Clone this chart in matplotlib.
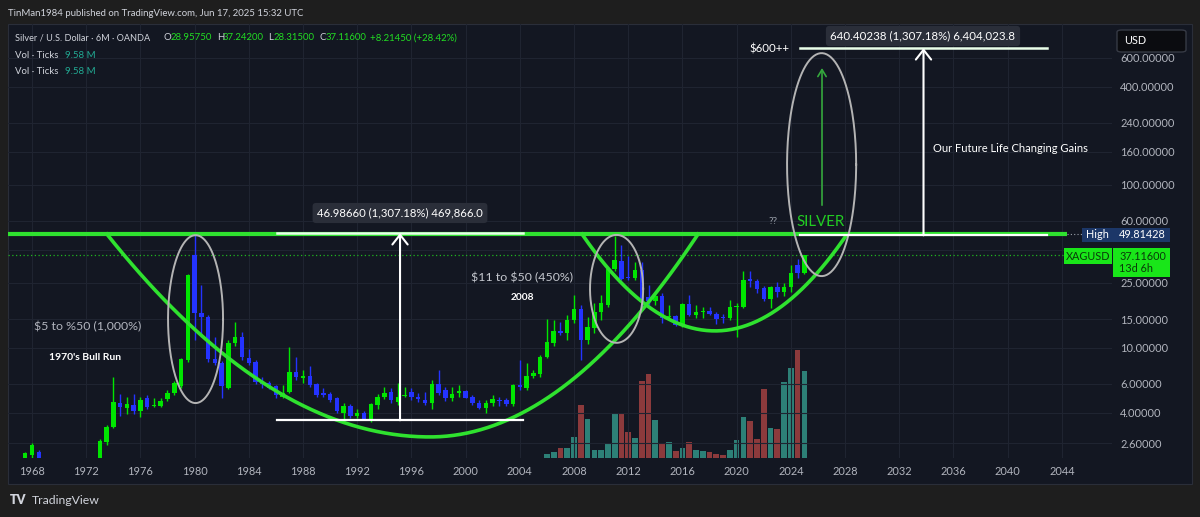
import numpy as np
import matplotlib
matplotlib.use('Agg')
import matplotlib.pyplot as plt
from matplotlib.patches import Rectangle, FancyBboxPatch
from matplotlib.ticker import NullLocator

plt.rcParams['font.family'] = ['Lato', 'DejaVu Sans']

# semi-annual candles (OANDA XAGUSD, 6M), first bar = 1967 H2
start = 1967.5
opens = [1.95, 2.2, 2.3, 1.95, 1.62, 1.8, 1.65, 1.64, 1.5, 1.37, 1.65,
         2.0, 2.66, 3.27, 4.6, 4.25, 4.45, 4.1, 4.9, 4.4, 4.4,
         4.85, 5.25, 5.8, 8.4, 37.1, 16.4, 15.5, 8.5, 8.1, 5.7,
         10.7, 11.6, 8.6, 8.2, 6.2, 6.1, 5.8, 5.0, 5.35, 7.1,
         6.5, 6.7, 6.0, 5.3, 5.2, 4.9, 4.0, 4.4, 3.8, 4.0,
         3.6, 4.45, 5.0, 5.35, 4.65, 5.06, 5.35, 5.0, 4.8, 4.6,
         6.0, 5.5, 4.9, 5.3, 5.4, 5.0, 4.6, 4.3, 4.6, 4.75,
         4.8, 4.5, 5.9, 5.7, 6.75, 6.9, 8.8, 10.7, 12.7, 12.3,
         14.8, 17.3, 11.2, 13.2, 16.6, 18.3, 30.5, 34.1, 27.3, 26.8,
         30.0, 20.5, 19.4, 20.8, 15.4, 15.6, 13.6, 18.6, 15.8, 16.5,
         16.9, 16.2, 15.5, 15.3, 17.8, 17.9, 26.5, 25.7, 23.3, 19.9,
         23.6, 22.0, 23.6, 32.0, 28.9575]
highs = [2.3, 2.6, 2.35, 2.05, 1.95, 1.95, 1.9, 1.75, 1.6, 1.75, 2.05,
         2.75, 3.35, 6.6, 5.2, 5.0, 5.2, 5.0, 5.1, 4.9, 4.9,
         5.5, 6.3, 8.7, 28.5, 49.81428, 24.3, 16.0, 11.6, 8.3, 11.2,
         14.4, 12.5, 9.8, 8.4, 6.6, 6.3, 5.9, 5.9, 10.1, 8.8,
         7.3, 7.7, 6.1, 5.7, 5.35, 5.0, 4.6, 4.5, 4.2, 4.1,
         4.6, 5.2, 5.75, 5.7, 6.1, 5.75, 5.7, 5.3, 5.35, 6.35,
         7.3, 5.75, 5.75, 5.9, 5.5, 5.1, 4.8, 4.8, 5.1, 5.0,
         4.9, 6.0, 8.4, 8.1, 7.3, 9.0, 15.0, 14.8, 14.4, 16.0,
         21.1, 18.3, 15.5, 18.8, 21.1, 30.8, 48.6, 42.7, 36.5, 33.6,
         33.6, 24.3, 22.0, 21.6, 18.3, 16.0, 18.8, 21.1, 18.4, 17.8,
         17.7, 16.5, 16.2, 19.6, 18.9, 29.6, 29.6, 26.4, 23.8, 24.0,
         25.3, 25.0, 32.2, 35.0, 37.242]
lows = [1.9, 2.1, 1.9, 1.55, 1.55, 1.6, 1.6, 1.3, 1.3, 1.35, 1.6,
        1.95, 2.55, 3.2, 3.8, 3.9, 3.9, 3.77, 4.2, 4.35, 4.35,
        4.75, 5.1, 5.7, 8.2, 11.2, 11.6, 8.2, 7.9, 4.9, 5.6,
        10.2, 8.4, 7.9, 6.0, 5.7, 5.6, 4.9, 4.9, 5.3, 6.35,
        6.1, 5.75, 5.0, 5.0, 4.65, 4.0, 3.5, 3.7, 3.7, 3.6,
        3.5, 4.2, 4.85, 4.6, 4.45, 5.0, 4.8, 4.65, 4.45, 4.2,
        5.1, 4.7, 4.7, 5.0, 4.9, 4.45, 4.2, 4.0, 4.4, 4.4,
        4.4, 4.4, 5.5, 5.5, 6.5, 6.6, 8.7, 10.3, 12.0, 11.2,
        14.2, 8.4, 10.5, 12.3, 14.8, 17.8, 29.5, 26.1, 26.0, 26.1,
        17.8, 18.3, 18.3, 14.2, 14.8, 13.6, 13.4, 15.7, 15.2, 15.3,
        15.9, 14.0, 14.3, 14.8, 11.6, 17.5, 23.6, 21.6, 19.3, 17.5,
        20.5, 20.7, 21.9, 27.0, 28.315]
closes = [2.25, 2.55, 1.95, 1.62, 1.8, 1.65, 1.64, 1.5, 1.37, 1.65, 2.0,
          2.68, 3.27, 4.65, 4.35, 4.5, 4.1, 4.8, 4.35, 4.45, 4.75,
          5.3, 6.1, 8.5, 28.0, 16.4, 15.5, 8.5, 8.1, 5.8, 10.7,
          11.6, 8.8, 8.1, 6.2, 6.0, 5.7, 5.1, 5.3, 7.1, 6.6,
          6.7, 5.9, 5.1, 5.1, 4.8, 4.1, 4.4, 3.8, 4.0, 3.65,
          4.5, 5.0, 5.3, 4.8, 5.0, 5.1, 5.0, 4.85, 4.6, 6.0,
          5.3, 4.9, 5.2, 5.4, 4.95, 4.6, 4.3, 4.6, 4.85, 4.7,
          4.5, 5.9, 5.75, 6.7, 7.0, 8.8, 10.9, 12.6, 12.4, 14.8,
          17.3, 11.2, 13.4, 16.6, 18.8, 30.5, 34.6, 26.4, 26.8, 30.0,
          19.1, 19.4, 20.8, 15.2, 15.6, 13.8, 18.6, 15.9, 16.5, 16.9,
          16.2, 15.0, 15.3, 17.8, 18.0, 26.1, 25.6, 23.0, 19.8, 23.6,
          22.0, 23.6, 28.8, 28.9, 37.116]

# tick volume (millions), 2006 H1 .. 2025 H1
vol_start = 2006.0
volumes = [0.45, 0.7, 1.08, 1.08, 2.3, 5.9, 4.3, 0.9, 0.9, 1.57,
           4.85, 4.9, 2.87, 2.24, 8.5, 9.28, 4.17, 1.64, 1.75, 0.82,
           1.08, 1.75, 0.9, 0.82, 0.63, 0.45, 0.37, 0.9, 1.94, 4.55,
           4.1, 2.05, 7.6, 3.3, 3.17, 8.4, 10.0, 12.0, 9.58]

price_ticks = [2.6, 4, 6, 10, 15, 25, 40, 60, 100, 160, 240, 400, 600]
year_ticks = list(range(1968, 2045, 4))
ath = 49.81428
last = 37.116

W, H = 1200, 517
fig = plt.figure(figsize=(W / 100, H / 100), dpi=100)
fig.patch.set_facecolor('#1e1e1e')


def fx(x):
    return x / W


def fy(y):
    return 1 - y / H


fig.patches.append(Rectangle((fx(8), fy(484)), fx(1192) - fx(8), fy(24) - fy(484),
                             transform=fig.transFigure, fc='#131722', ec='#2a2e39',
                             lw=0.8, zorder=-1))

rect = [fx(8), fy(458), fx(1112) - fx(8), fy(24) - fy(458)]
xlim = (1966.23, 2047.70)
ylim = (2.109, 969.6)

# volume pane (own linear scale, overlaid at the bottom)
axv = fig.add_axes(rect)
axv.set_facecolor('none')
axv.set_xlim(xlim)
axv.set_ylim(0, 48)
axv.axis('off')
i0 = int(round((vol_start - start) / 0.5))
tv = vol_start + 0.5 * np.arange(len(volumes))
vcol = ['#2d8077' if closes[i0 + j] >= opens[i0 + j] else '#8c3a3c' for j in range(len(volumes))]
axv.bar(tv, volumes, width=0.42, color=vcol, zorder=2)

ax = fig.add_axes(rect)
ax.set_facecolor('none')
ax.set_yscale('log')
ax.set_xlim(xlim)
ax.set_ylim(ylim)
for s in ax.spines.values():
    s.set_visible(False)
ax.yaxis.tick_right()
ax.set_yticks(price_ticks)
# the 40 label sits under the High / XAGUSD tags
ax.set_yticklabels(['' if v == 40 else f'{v:.5f}' for v in price_ticks])
ax.yaxis.set_minor_locator(NullLocator())
ax.set_xticks(year_ticks)
ax.set_xticklabels([str(y) for y in year_ticks])
ax.tick_params(axis='both', length=0, labelcolor='#b2b5be', labelsize=7.9)
ax.tick_params(axis='y', pad=6)
ax.tick_params(axis='x', pad=6)
ax.grid(color='#1f2431', lw=0.8)
ax.set_axisbelow(True)

# candles
o = np.array(opens); h = np.array(highs); l = np.array(lows); c = np.array(closes)
t = start + 0.5 * np.arange(len(o))
col = np.where(c >= o, '#00e600', '#2433ff')
ax.vlines(t, l, h, colors=col, lw=1, zorder=3)
body = np.maximum(np.abs(c - o), 0.015 * o)
ax.bar(t, body, bottom=np.minimum(o, c), width=0.33, color=col, zorder=4)

green = '#2fe22f'
# all-time-high line and last price line
ax.plot([xlim[0], 2044.4], [ath, ath], color=green, lw=3, solid_capstyle='butt', zorder=6)
ax.plot([2044.4, xlim[1]], [ath, ath], color='#9aa0aa', lw=0.8, ls=(0, (1, 2)), zorder=6)
ax.axhline(last, color='#1fb51f', lw=0.9, ls=(0, (1, 2)), zorder=2)


def cup(left, mid, right, low, top):
    ll, lt = np.log10(low), np.log10(top)
    a = np.linspace(left, mid, 80)
    b = np.linspace(mid, right, 80)
    ya = ll + (lt - ll) * ((a - mid) / (left - mid)) ** 2
    yb = ll + (lt - ll) * ((b - mid) / (right - mid)) ** 2
    ax.plot(np.r_[a, b], 10 ** np.r_[ya, yb], color=green, lw=2.6, zorder=6)


cup(1973.53, 1997.37, 2017.15, 2.84, ath)
cup(2008.59, 2018.41, 2028.15, 12.7, ath)


def oval(ty, p, wy, hd):
    a = np.linspace(0, 2 * np.pi, 200)
    ax.plot(ty + wy * np.cos(a), p * 10 ** (hd * np.sin(a)), color='#b4b4b4', lw=1.4, zorder=7)


oval(1980.07, 15.0, 2.03, 0.515)
oval(2011.14, 23.0, 1.96, 0.331)
oval(2026.27, 133.0, 2.55, 0.684)


def measure(y0, y1, lo, hi):
    mid = (y0 + y1) / 2
    ax.plot([y0, y1], [lo, lo], color='white', lw=1.6, zorder=8)
    ax.plot([y0, y1], [hi, hi], color='#eaffea', lw=1.8, zorder=8)
    ax.annotate('', xy=(mid, hi), xytext=(mid, lo), zorder=8,
                arrowprops=dict(arrowstyle='->,head_length=0.7,head_width=0.55',
                                color='white', lw=1.5, shrinkA=0, shrinkB=0))


measure(1986.08, 2004.24, 3.594, 50.58)
measure(2024.68, 2042.9, 48.99, 689.39)

ax.annotate('', xy=(2026.3, 521), xytext=(2026.3, 75), zorder=8,
            arrowprops=dict(arrowstyle='->,head_length=0.5,head_width=0.3',
                            color='#35a83d', lw=1.2, shrinkA=0, shrinkB=0))

# chart texts
txt = '#d1d4dc'
hs = 6.95
fig.text(fx(8), fy(14), 'TinMan1984 published on TradingView.com, Jun 17, 2025 15:32 UTC',
         color=txt, fontsize=hs, va='center')
fig.text(fx(15), fy(38), 'Silver / U.S. Dollar · 6M · OANDA', color=txt, fontsize=6.6, va='center')
legend_parts = [(164, 'O', txt), (171, '28.95750', '#22dd22'), (217, 'H', txt),
                (223, '37.24200', '#22dd22'), (268, 'L', txt), (274, '28.31500', '#22dd22'),
                (319, 'C', txt), (326, '37.11600', '#22dd22'), (370, '+8.21450 (+28.42%)', '#22dd22')]
for px, s, cc in legend_parts:
    fig.text(fx(px), fy(38), s, color=cc, fontsize=hs, va='center')
for yy in (55, 71):
    fig.text(fx(15), fy(yy), 'Vol · Ticks', color=txt, fontsize=hs, va='center')
    fig.text(fx(65), fy(yy), '9.58 M', color='#22ab94', fontsize=hs, va='center')

fig.text(fx(88), fy(327), r'\$5 to %50 (1,000%)', color='#b2b5be', fontsize=8.9, ha='center', va='center')
fig.text(fx(85), fy(358), "1970's Bull Run", color='white', fontsize=7.5, ha='center', va='center',
         fontweight='bold')
fig.text(fx(522), fy(278), r'\$11 to \$50 (450%)', color='#c4c7ce', fontsize=8.9, ha='center', va='center')
fig.text(fx(522), fy(297), '2008', color='white', fontsize=7.3, ha='center', va='center', fontweight='bold')
fig.text(fx(773), fy(221), '??', color='#9aa0aa', fontsize=7.3, ha='center', va='center')
fig.text(fx(821), fy(222), 'SILVER', color='#22cc22', fontsize=10.8, ha='center', va='center')
fig.text(fx(769), fy(49), r'\$600++', color='white', fontsize=8.3, ha='center', va='center')
fig.text(fx(1010), fy(149), 'Our Future Life Changing Gains', color='white', fontsize=8.0,
         ha='center', va='center')
box = dict(boxstyle='round,pad=0.4,rounding_size=0.3', fc='#2a2e39', ec='none')
fig.text(fx(400), fy(213), '46.98660 (1,307.18%) 469,866.0', color='white', fontsize=8.2,
         ha='center', va='center', bbox=box)
fig.text(fx(923), fy(36), '640.40238 (1,307.18%) 6,404,023.8', color='white', fontsize=8.3,
         ha='center', va='center', bbox=box)

# price scale labels


def label(x0, x1, y0, y1, fc):
    fig.patches.append(Rectangle((fx(x0), fy(y1)), fx(x1) - fx(x0), fy(y0) - fy(y1),
                                 transform=fig.transFigure, fc=fc, ec='none', zorder=5))


label(1082, 1112, 228, 242, '#1c3768')
label(1112, 1170, 228, 242, '#1c3768')
label(1064, 1112, 248, 264, '#19e619')
label(1113, 1170, 248, 277, '#19e619')
fig.text(fx(1097), fy(235), 'High', color='white', fontsize=7.8, ha='center', va='center', zorder=6)
fig.text(fx(1119), fy(235), '49.81428', color='white', fontsize=7.8, va='center', zorder=6)
fig.text(fx(1088), fy(256), 'XAGUSD', color='#0a3a0a', fontsize=7.8, ha='center', va='center', zorder=6)
fig.text(fx(1119), fy(256), '37.11600', color='#0a3a0a', fontsize=7.8, va='center', zorder=6)
fig.text(fx(1119), fy(269), '13d 6h', color='#0a3a0a', fontsize=7.8, va='center', zorder=6)

fig.patches.append(FancyBboxPatch((fx(1117), fy(52)), fx(1186) - fx(1117), fy(30) - fy(52),
                                  boxstyle='round,pad=0,rounding_size=0.004',
                                  transform=fig.transFigure, fc='#0b0c10', ec='#363a45',
                                  lw=1, zorder=5))
fig.text(fx(1124), fy(41), 'USD', color='white', fontsize=7.8, va='center', zorder=6)

# footer
fig.text(fx(10), fy(500), 'TV', color=txt, fontsize=9, fontweight='heavy', va='center')
fig.text(fx(32), fy(500), 'TradingView', color=txt, fontsize=8.8, va='center')

fig.savefig('out.png', dpi=100, facecolor=fig.get_facecolor())
